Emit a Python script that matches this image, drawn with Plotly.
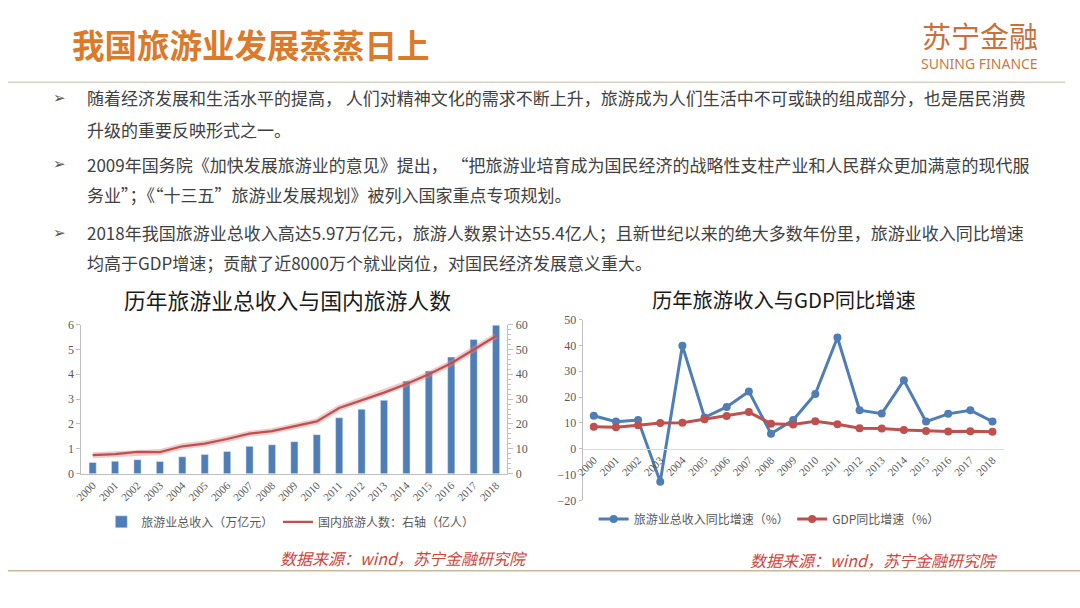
import plotly.graph_objects as go

W, H = 1080, 608

years = [str(y) for y in range(2000, 2019)]
revenue = [0.45, 0.50, 0.56, 0.49, 0.68, 0.77, 0.89, 1.10, 1.16, 1.29, 1.57,
           2.25, 2.59, 2.95, 3.73, 4.13, 4.69, 5.40, 5.97]
tourists = [7.44, 7.84, 8.78, 8.70, 11.02, 12.12, 13.94, 16.10, 17.12, 19.02,
            21.03, 26.41, 29.57, 32.62, 36.11, 40.00, 44.40, 50.01, 55.39]
rev_growth = [12.8, 10.5, 11.1, -12.8, 39.9, 12.1, 16.2, 22.2, 5.8, 11.1,
              21.2, 43.1, 14.9, 13.6, 26.5, 10.5, 13.5, 14.9, 10.5]
gdp_growth = [8.5, 8.3, 9.1, 10.0, 10.1, 11.4, 12.7, 14.2, 9.7, 9.4,
              10.6, 9.5, 7.9, 7.8, 7.3, 6.9, 6.7, 6.8, 6.6]

title_main = "我国旅游业发展蒸蒸日上"
chart1_title = "历年旅游业总收入与国内旅游人数"
chart2_title = "历年旅游收入与GDP同比增速"
source_text = "数据来源：wind，苏宁金融研究院"
bullets = [
    ["随着经济发展和生活水平的提高， 人们对精神文化的需求不断上升，旅游成为人们生活中不可或缺的组成部分，也是居民消费",
     "升级的重要反映形式之一。"],
    ["2009年国务院《加快发展旅游业的意见》提出， “把旅游业培育成为国民经济的战略性支柱产业和人民群众更加满意的现代服",
     "务业”；《“十三五”旅游业发展规划》被列入国家重点专项规划。"],
    ["2018年我国旅游业总收入高达5.97万亿元，旅游人数累计达55.4亿人；且新世纪以来的绝大多数年份里，旅游业收入同比增速",
     "均高于GDP增速；贡献了近8000万个就业岗位，对国民经济发展意义重大。"],
]

BLUE = "#4F7DB5"
RED = "#C0504D"
GRAY = "#595959"
AXIS = "#BFBFBF"
SERIF = "Liberation Serif, Times New Roman, serif"
CJK = "Noto Sans CJK SC, sans-serif"


def px(x):
    return x / W


def py(y):
    return 1 - y / H


fig = go.Figure()

# Left chart
fig.add_trace(go.Bar(x=years, y=revenue, name="旅游业总收入（万亿元）",
                     marker=dict(color=BLUE), width=0.32,
                     xaxis="x", yaxis="y", legend="legend"))
fig.add_trace(go.Scatter(x=years, y=tourists, mode="lines", showlegend=False,
                         line=dict(color="rgba(225,140,140,0.45)", width=6),
                         xaxis="x", yaxis="y2", hoverinfo="skip"))
fig.add_trace(go.Scatter(x=years, y=tourists, mode="lines",
                         name="国内旅游人数：右轴（亿人）",
                         line=dict(color=RED, width=2.2),
                         xaxis="x", yaxis="y2", legend="legend2"))

# Right chart
fig.add_trace(go.Scatter(x=years, y=rev_growth, mode="lines+markers",
                         name="旅游业总收入同比增速（%）",
                         line=dict(color=BLUE, width=3),
                         marker=dict(size=8, color=BLUE),
                         xaxis="x3", yaxis="y3", legend="legend3"))
fig.add_trace(go.Scatter(x=years, y=gdp_growth, mode="lines+markers",
                         name="GDP同比增速（%）",
                         line=dict(color=RED, width=3),
                         marker=dict(size=8, color=RED),
                         xaxis="x3", yaxis="y3", legend="legend4"))

tickfont = dict(family=SERIF, size=12, color=GRAY)


def leg(x, y):
    return dict(orientation="h", x=px(x), y=py(y), xanchor="left", yanchor="middle",
                font=dict(family=CJK, size=12, color=GRAY), bgcolor="rgba(0,0,0,0)")


fig.update_layout(
    width=W, height=H,
    margin=dict(l=0, r=0, t=0, b=0),
    paper_bgcolor="white", plot_bgcolor="rgba(0,0,0,0)",
    showlegend=True,
    xaxis=dict(domain=[px(74), px(503)], anchor="y", type="category",
               range=[-0.5, 18.5], tickangle=-45, tickfont=dict(family=SERIF, size=11, color=GRAY),
               showline=True, linecolor=AXIS, linewidth=1, ticks="", showgrid=False,
               zeroline=False),
    yaxis=dict(domain=[py(477.7), py(325)], range=[0, 6], dtick=1,
               showline=True, linecolor=AXIS, ticks="outside", ticklen=4, tickcolor=AXIS,
               showgrid=False, zeroline=False, tickfont=tickfont),
    yaxis2=dict(overlaying="y", side="right", range=[0, 60], dtick=10,
                showline=True, linecolor=AXIS, ticks="outside", ticklen=5, tickcolor=AXIS,
                minor=dict(ticks="outside", dtick=2, ticklen=3, tickcolor=AXIS),
                showgrid=False, zeroline=False, tickfont=tickfont, anchor="x"),
    xaxis3=dict(domain=[px(579), px(1003)], anchor="free", position=py(452),
                type="category", range=[-0.5, 18.5], tickangle=-45,
                tickfont=dict(family=SERIF, size=11, color=GRAY),
                showline=True, linecolor="#D9D9D9", linewidth=1, ticks="", showgrid=False,
                zeroline=False),
    yaxis3=dict(domain=[py(505), py(320)], anchor="x3", range=[-20, 50], dtick=10,
                showline=True, linecolor=AXIS, ticks="outside", ticklen=3, tickcolor=AXIS,
                showgrid=False, zeroline=False, tickfont=tickfont),
    legend=leg(94, 527),
    legend2=leg(272, 527),
    legend3=leg(590, 524),
    legend4=leg(790, 524),
)

ann = []


def add(text, x, y, size, color, family=CJK, xanchor="left"):
    ann.append(dict(text=text, x=px(x), y=py(y), xref="paper", yref="paper",
                    xanchor=xanchor, yanchor="middle", showarrow=False,
                    font=dict(family=family, size=size, color=color)))


add("<b>" + title_main + "</b>", 62, 37, 32.5, "#DB7A2A")
add("苏宁金融", 979, 29, 29, "#C9703C", xanchor="center")
add("SUNING FINANCE", 979, 58, 14, "#C77A45", family="Noto Sans, sans-serif", xanchor="center")

line_y = [(93, 125), (161, 192), (231, 262)]
for (l1, l2), (y1, y2) in zip(bullets, line_y):
    add("➢", 52, y1, 15, "#505050", family="DejaVu Sans", xanchor="center")
    add(l1, 78, y1, 17, "#404040")
    add(l2, 78, y2, 17, "#404040")

add(chart1_title, 282, 299, 21.8, "#1a1a1a", xanchor="center")
add(chart2_title, 782, 299, 20.3, "#1a1a1a", xanchor="center")
add("<i>" + source_text + "</i>", 272, 564, 16, "#D0453A")
add("<i>" + source_text + "</i>", 746, 566, 16, "#D0453A")
fig.update_layout(annotations=ann)

fig.update_layout(shapes=[
    dict(type="line", xref="paper", yref="paper", x0=0, x1=px(1065), y0=py(77), y1=py(77),
         line=dict(color="#D8D2C6", width=1.5)),
    dict(type="line", xref="paper", yref="paper", x0=0, x1=1, y0=py(577), y1=py(577),
         line=dict(color="#C9B79C", width=1.5)),
])

fig.write_html("out.html")
